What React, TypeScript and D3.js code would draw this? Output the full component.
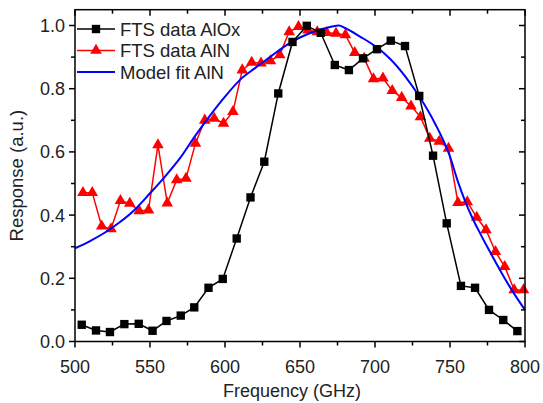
import React from "react";
import * as d3 from "d3";

const alOxFreq = [504.5, 514, 523.3, 532.9, 542.5, 551.7, 561, 570.5, 579.5, 589, 598.5, 607.8, 617, 626.2, 635.5, 645, 654.5, 663.8, 673.2, 682.6, 692, 701.3, 710.5, 720, 729.5, 738.7, 747.8, 757.3, 766.7, 776, 785.5, 794.9];
const alOxResp = [0.053, 0.035, 0.030, 0.055, 0.056, 0.034, 0.065, 0.082, 0.108, 0.170, 0.198, 0.326, 0.456, 0.569, 0.785, 0.948, 0.999, 0.977, 0.875, 0.859, 0.896, 0.925, 0.952, 0.935, 0.777, 0.588, 0.374, 0.176, 0.170, 0.100, 0.068, 0.033];

const alNFreq = [505.3, 511.5, 517.8, 524, 530.3, 536.5, 542.8, 549, 555.3, 561.5, 567.8, 574, 580.3, 586.5, 592.8, 599, 605.3, 611.5, 617.8, 624, 630.3, 636.5, 642.8, 649, 655.3, 661.5, 667.8, 674, 680.3, 686.5, 692.8, 699, 705.3, 711.5, 717.8, 724, 730.3, 736.5, 742.8, 749, 755.3, 761.5, 767.8, 774, 780.3, 786.5, 792.8, 799];
const alNResp = [0.471, 0.471, 0.365, 0.356, 0.446, 0.437, 0.413, 0.416, 0.622, 0.438, 0.511, 0.516, 0.627, 0.700, 0.706, 0.690, 0.727, 0.859, 0.883, 0.881, 0.888, 0.907, 0.980, 0.996, 0.985, 0.980, 0.977, 0.975, 0.970, 0.914, 0.896, 0.831, 0.833, 0.794, 0.772, 0.745, 0.711, 0.643, 0.633, 0.611, 0.439, 0.442, 0.393, 0.353, 0.284, 0.237, 0.163, 0.163];

const fitFreq = [500, 510, 520, 530, 540, 550, 560, 570, 580, 590, 600, 610, 620, 630, 640, 650, 660, 670, 676, 680, 690, 700, 710, 720, 730, 740, 750, 755, 760, 765, 770, 775, 780, 785, 790, 795, 800];
const fitResp = [0.295, 0.318, 0.345, 0.378, 0.418, 0.469, 0.522, 0.58, 0.65, 0.715, 0.775, 0.828, 0.865, 0.9, 0.935, 0.962, 0.982, 0.995, 1.0, 0.992, 0.965, 0.935, 0.895, 0.84, 0.772, 0.69, 0.585, 0.51, 0.445, 0.39, 0.343, 0.298, 0.255, 0.212, 0.172, 0.135, 0.1];

const xTicks = [500, 550, 600, 650, 700, 750, 800];
const xMinor = [525, 575, 625, 675, 725, 775];
const yTicks = [0.0, 0.2, 0.4, 0.6, 0.8, 1.0];
const yMinor = [0.1, 0.3, 0.5, 0.7, 0.9];

const legendLabels = ["FTS data AlOx", "FTS data AlN", "Model fit AlN"];

const FONT = "'Liberation Sans', Arial, sans-serif";

export default function App() {
  const x = d3.scaleLinear().domain([500, 800]).range([75, 525]);
  const y = d3.scaleLinear().domain([0, 1.05]).range([341.5, 9.7]);
  const [x0, x1] = x.range();
  const [y0, y1] = y.range();

  const line = d3.line<[number, number]>().x((d) => x(d[0])).y((d) => y(d[1]));
  const smooth = d3
    .line<[number, number]>()
    .x((d) => x(d[0]))
    .y((d) => y(d[1]))
    .curve(d3.curveMonotoneX);

  const black = alOxFreq.map((f, i) => [f, alOxResp[i]] as [number, number]);
  const red = alNFreq.map((f, i) => [f, alNResp[i]] as [number, number]);
  const blue = fitFreq.map((f, i) => [f, fitResp[i]] as [number, number]);

  const sq = d3.symbol(d3.symbolSquare, 70)()!;
  const tri = d3.symbol(d3.symbolTriangle, 58)()!;

  const legendY = [29, 50.5, 72];

  return (
    <svg width={543} height={403} style={{ position: "absolute", left: 0, top: 0, background: "#fff" }}>
      <rect x={0} y={0} width={543} height={403} fill="#fff" />
      <path d={line(red)!} fill="none" stroke="#ff0000" strokeWidth={1.5} />
      {red.map((d, i) => (
        <path key={"r" + i} d={tri} transform={`translate(${x(d[0])},${y(d[1])})`} fill="#ff0000" />
      ))}
      <path d={smooth(blue)!} fill="none" stroke="#0000ff" strokeWidth={2} />
      <path d={line(black)!} fill="none" stroke="#000" strokeWidth={1.5} />
      {black.map((d, i) => (
        <path key={"b" + i} d={sq} transform={`translate(${x(d[0])},${y(d[1])})`} fill="#000" />
      ))}

      <rect x={x0} y={y1} width={x1 - x0} height={y0 - y1} fill="none" stroke="#000" strokeWidth={1.5} />

      {xTicks.map((t) => (
        <g key={"xt" + t}>
          <line x1={x(t)} x2={x(t)} y1={y0} y2={y0 + 6} stroke="#000" strokeWidth={1.5} />
          <line x1={x(t)} x2={x(t)} y1={y1} y2={y1 + 6} stroke="#000" strokeWidth={1.5} />
          <text x={x(t)} y={373} textAnchor="middle" fontFamily={FONT} fontSize={18} fill="#222">
            {t}
          </text>
        </g>
      ))}
      {xMinor.map((t) => (
        <g key={"xm" + t}>
          <line x1={x(t)} x2={x(t)} y1={y0} y2={y0 + 4} stroke="#000" strokeWidth={1.5} />
          <line x1={x(t)} x2={x(t)} y1={y1} y2={y1 + 4} stroke="#000" strokeWidth={1.5} />
        </g>
      ))}

      {yTicks.map((t) => (
        <g key={"yt" + t}>
          <line x1={x0 - 6} x2={x0} y1={y(t)} y2={y(t)} stroke="#000" strokeWidth={1.5} />
          <line x1={x1 - 6} x2={x1} y1={y(t)} y2={y(t)} stroke="#000" strokeWidth={1.5} />
          <text x={65} y={y(t) + 6.5} textAnchor="end" fontFamily={FONT} fontSize={18} fill="#222">
            {t.toFixed(1)}
          </text>
        </g>
      ))}
      {yMinor.map((t) => (
        <g key={"ym" + t}>
          <line x1={x0 - 4} x2={x0} y1={y(t)} y2={y(t)} stroke="#000" strokeWidth={1.5} />
          <line x1={x1 - 4} x2={x1} y1={y(t)} y2={y(t)} stroke="#000" strokeWidth={1.5} />
        </g>
      ))}

      <text x={(x0 + x1) / 2 - 8} y={397} textAnchor="middle" fontFamily={FONT} fontSize={18} fill="#222">
        Frequency (GHz)
      </text>
      <text
        transform={`translate(23,${(y0 + y1) / 2}) rotate(-90)`}
        textAnchor="middle"
        fontFamily={FONT}
        fontSize={18.5}
        fill="#222"
      >
        Response (a.u.)
      </text>

      <g>
        <line x1={77} x2={115} y1={legendY[0]} y2={legendY[0]} stroke="#000" strokeWidth={1.5} />
        <path d={sq} transform={`translate(96,${legendY[0]})`} fill="#000" />
        <line x1={77} x2={115} y1={legendY[1]} y2={legendY[1]} stroke="#ff0000" strokeWidth={1.5} />
        <path d={tri} transform={`translate(96,${legendY[1]})`} fill="#ff0000" />
        <line x1={77} x2={115} y1={legendY[2]} y2={legendY[2]} stroke="#0000ff" strokeWidth={2} />
        {legendLabels.map((l, i) => (
          <text key={l} x={120} y={legendY[i] + 6.5} fontFamily={FONT} fontSize={18.5} fill="#222">
            {l}
          </text>
        ))}
      </g>
    </svg>
  );
}
